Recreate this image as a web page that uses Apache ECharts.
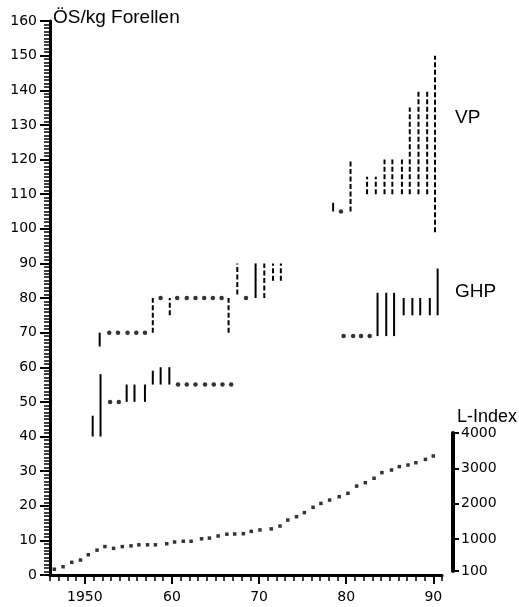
<!DOCTYPE html>
<html><head><meta charset="utf-8">
<script src="https://cdn.jsdelivr.net/npm/echarts@6/dist/echarts.min.js"></script>
<style>html,body{margin:0;padding:0;background:#fff}#c{width:519px;height:607px}</style>
</head><body><div id="c"></div>
<script>
// ---------- DATA ----------
const xTickValues = [1950, 1960, 1970, 1980, 1990];
const xTickLabels = ['1950', '60', '70', '80', '90'];
const lIndexTickValues = [100, 1000, 2000, 3000, 4000];

// L-Index (right axis)
const lIndexYears = [1946.5,1947.5,1948.5,1949.5,1950.4,1951.4,1952.3,1953.3,1954.3,1955.3,1956.2,1957.2,1958.1,1959.4,1960.3,1961.3,1962.2,1963.4,1964.3,1965.3,1966.3,1967.2,1968.2,1969.1,1970.1,1971.4,1972.4,1973.3,1974.3,1975.2,1976.2,1977.1,1978.1,1979.2,1980.2,1981.2,1982.2,1983.2,1984.1,1985.2,1986.1,1987.1,1988.0,1989.1,1990.0];
const lIndexValues = [150,220,345,410,560,690,790,740,790,810,840,840,840,870,920,940,940,1010,1030,1090,1140,1145,1155,1220,1260,1290,1370,1540,1635,1750,1900,2010,2105,2200,2295,2500,2595,2720,2880,2955,3050,3095,3160,3255,3350];

// lower early series (ÖS/kg)
const lowerSolidYears = [1950.9, 1951.8, 1954.8, 1955.7, 1956.9, 1957.8, 1958.7, 1959.7];
const lowerSolidLow   = [40, 40, 50, 50, 50, 55, 55, 55];
const lowerSolidHigh  = [46, 58, 55, 55, 55, 59, 60, 60];
const lowerDotYears = [1952.9, 1953.9, 1960.7, 1961.7, 1962.7, 1963.8, 1964.8, 1965.8, 1966.8];
const lowerDotValues = [50, 50, 55, 55, 55, 55, 55, 55, 55];

// upper early series
const upperSolidYears = [1951.7, 1969.6];
const upperSolidLow   = [66, 80];
const upperSolidHigh  = [70, 90];
const upperDashYears = [1957.8, 1959.75, 1966.5, 1967.5, 1970.6, 1971.6, 1972.5];
const upperDashLow   = [70, 75, 70, 81, 80, 85, 85];
const upperDashHigh  = [80, 80, 80, 90, 90, 90, 90];
const upperDotYears = [1952.8, 1953.8, 1954.9, 1955.9, 1956.9, 1958.7, 1960.6, 1961.7, 1962.7, 1963.7, 1964.7, 1965.7, 1968.5];
const upperDotValues = [70, 70, 70, 70, 70, 80, 80, 80, 80, 80, 80, 80, 80];

// VP
const vpSolidYears = [1978.5];
const vpSolidLow   = [105];
const vpSolidHigh  = [107.5];
const vpDashYears = [1980.5, 1982.4, 1983.4, 1984.4, 1985.3, 1986.4, 1987.3, 1988.3, 1989.3, 1990.2];
const vpDashLow   = [105, 110, 110, 110, 110, 110, 110, 110, 110, 99];
const vpDashHigh  = [120, 115, 115, 120, 120, 120, 135, 140, 140, 150];
const vpDotYears = [1979.4];
const vpDotValues = [105];

// GHP
const ghpSolidYears = [1983.6, 1984.6, 1985.5, 1986.6, 1987.6, 1988.5, 1989.6, 1990.5];
const ghpSolidLow   = [69, 69, 69, 75, 75, 75, 75, 75];
const ghpSolidHigh  = [81.5, 81.5, 81.5, 80, 80, 80, 80, 88.5];
const ghpDotYears = [1979.7, 1980.8, 1981.7, 1982.7];
const ghpDotValues = [69, 69, 69, 69];

// ---------- CHART ----------
const FONT = 'DejaVu Sans';
const chart = echarts.init(document.getElementById('c'), null, {renderer: 'canvas'});

function zip2(a, b) { return a.map((v, i) => [v, b[i]]); }
function zip3(a, b, c) { return a.map((v, i) => [v, b[i], c[i]]); }

function rangeSeries(years, lows, highs, dashed) {
  return {
    type: 'custom', xAxisIndex: 0, yAxisIndex: 0, silent: true,
    data: zip3(years, lows, highs),
    encode: {x: 0, y: [1, 2]},
    renderItem: function (params, api) {
      const p1 = api.coord([api.value(0), api.value(1)]);
      const p2 = api.coord([api.value(0), api.value(2)]);
      return {
        type: 'line',
        shape: {x1: p1[0], y1: p1[1], x2: p2[0], y2: p2[1]},
        style: {stroke: '#000', lineWidth: 2, lineDash: dashed ? [5, 2.5] : null}
      };
    }
  };
}
function dotSeries(years, vals) {
  return {
    type: 'scatter', xAxisIndex: 0, yAxisIndex: 0, silent: true,
    symbol: 'circle', symbolSize: 4.5,
    itemStyle: {color: '#000'},
    data: zip2(years, vals)
  };
}

const option = {
  animation: false,
  backgroundColor: '#fff',
  grid: [
    {left: 50, right: 77, top: 21, bottom: 32},
    {left: 50, right: 77, top: 433, bottom: 36}
  ],
  xAxis: [
    {
      type: 'value', gridIndex: 0, min: 1946, max: 1991, interval: 1,
      axisLine: {lineStyle: {color: '#000', width: 3}},
      axisTick: {length: 6, lineStyle: {color: '#000', width: 1.5}},
      axisLabel: {show: false},
      splitLine: {show: false}
    },
    {
      type: 'value', gridIndex: 0, min: 1946, max: 1991, position: 'bottom',
      axisLine: {show: false},
      axisTick: {customValues: xTickValues, length: 9, lineStyle: {color: '#000', width: 2}},
      axisLabel: {
        customValues: xTickValues, margin: 15, color: '#000',
        fontFamily: FONT, fontSize: 14,
        formatter: function (v) { const i = xTickValues.indexOf(v); return i >= 0 ? xTickLabels[i] : ''; }
      },
      splitLine: {show: false}
    },
    {type: 'value', gridIndex: 1, min: 1946, max: 1991, show: false}
  ],
  yAxis: [
    {
      type: 'value', gridIndex: 0, min: 0, max: 160, interval: 10,
      axisLine: {show: true, lineStyle: {color: '#000', width: 3}},
      axisTick: {show: true, length: 10, lineStyle: {color: '#000', width: 2}},
      minorTick: {show: true, splitNumber: 10, length: 6, lineStyle: {color: '#000', width: 1.5}},
      axisLabel: {margin: 13, color: '#000', fontFamily: FONT, fontSize: 14},
      splitLine: {show: false}, minorSplitLine: {show: false}
    },
    {
      type: 'value', gridIndex: 1, position: 'right', offset: 11, min: 100, max: 4000,
      axisLine: {show: true, lineStyle: {color: '#000', width: 4}},
      axisTick: {show: true, customValues: lIndexTickValues, length: 6, lineStyle: {color: '#000', width: 2}},
      axisLabel: {
        customValues: lIndexTickValues, margin: 8, color: '#000', fontFamily: FONT, fontSize: 14,
        formatter: function (v) { return String(Math.round(v)); }
      },
      splitLine: {show: false}
    }
  ],
  graphic: [
    {type: 'text', left: 53, top: 8, style: {text: 'ÖS/kg Forellen', font: '19px "Liberation Sans"', fill: '#000'}},
    {type: 'text', right: 2, top: 408, style: {text: 'L-Index', font: '18px "Liberation Sans"', fill: '#000'}},
    {type: 'text', left: 455, top: 108, style: {text: 'VP', font: '19px "Liberation Sans"', fill: '#000'}},
    {type: 'text', left: 455, top: 282, style: {text: 'GHP', font: '19px "Liberation Sans"', fill: '#000'}}
  ],
  series: [
    {
      type: 'scatter', xAxisIndex: 2, yAxisIndex: 1, silent: true,
      symbol: 'rect', symbolSize: 3.5, itemStyle: {color: '#000'},
      data: zip2(lIndexYears, lIndexValues)
    },
    rangeSeries(lowerSolidYears, lowerSolidLow, lowerSolidHigh, false),
    dotSeries(lowerDotYears, lowerDotValues),
    rangeSeries(upperSolidYears, upperSolidLow, upperSolidHigh, false),
    rangeSeries(upperDashYears, upperDashLow, upperDashHigh, true),
    dotSeries(upperDotYears, upperDotValues),
    rangeSeries(vpSolidYears, vpSolidLow, vpSolidHigh, false),
    rangeSeries(vpDashYears, vpDashLow, vpDashHigh, true),
    dotSeries(vpDotYears, vpDotValues),
    rangeSeries(ghpSolidYears, ghpSolidLow, ghpSolidHigh, false),
    dotSeries(ghpDotYears, ghpDotValues)
  ]
};
chart.setOption(option);
</script>
</body></html>
